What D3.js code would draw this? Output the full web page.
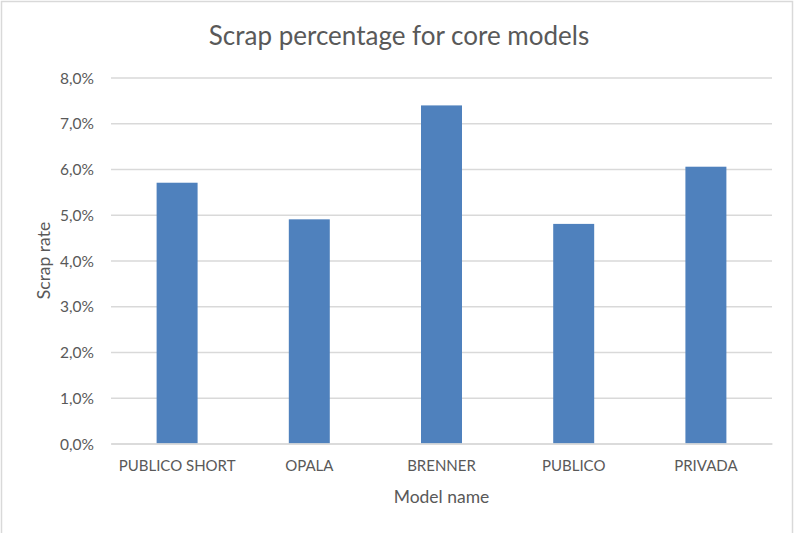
<!DOCTYPE html>
<html>
<head>
<meta charset="utf-8">
<script src="https://cdn.jsdelivr.net/npm/d3@7"></script>
<style>
  html, body { margin: 0; padding: 0; background: #fff; }
  svg { display: block; }
  text { font-family: Lato, "Open Sans", sans-serif; fill: #595959; }
</style>
</head>
<body>
<svg id="chart" width="794" height="533"></svg>
<script>
// Scrap rate per core model
const models = ["PUBLICO SHORT", "OPALA", "BRENNER", "PUBLICO", "PRIVADA"];
const scrapRates = [0.057, 0.049, 0.0739, 0.048, 0.0605];
const yTicks = [0, 0.01, 0.02, 0.03, 0.04, 0.05, 0.06, 0.07, 0.08];

const chartTitle = "Scrap percentage for core models";
const xTitle = "Model name";
const yTitle = "Scrap rate";

const W = 794, H = 533;
const margin = { top: 77.5, right: 22, bottom: 89.5, left: 111 };

const svg = d3.select("#chart");

// outer chart frame
svg.append("rect")
  .attr("x", 1.5).attr("y", 1.5)
  .attr("width", W - 3).attr("height", H + 10)
  .attr("fill", "#fff")
  .attr("stroke", "#d9d9d9")
  .attr("stroke-width", 1.5);

const x = d3.scaleBand()
  .domain(models)
  .range([margin.left, W - margin.right])
  .paddingInner(0.69)
  .paddingOuter(0.345);

const y = d3.scaleLinear()
  .domain([0, 0.08])
  .range([H - margin.bottom, margin.top]);

// comma decimal separator, e.g. 8,0%
const locale = d3.formatLocale({ decimal: ",", thousands: ".", grouping: [3], currency: ["", " €"] });
const pct = locale.format(".1%");

// horizontal gridlines + value labels
const yAxis = d3.axisLeft(y)
  .tickValues(yTicks)
  .tickFormat(pct)
  .tickSize(-(W - margin.left - margin.right))
  .tickPadding(17);

const gy = svg.append("g")
  .attr("transform", `translate(${margin.left},0)`)
  .call(yAxis);
gy.select(".domain").remove();
gy.selectAll(".tick line")
  .attr("stroke", "#d9d9d9")
  .attr("stroke-width", 1.3);
gy.selectAll(".tick text")
  .attr("font-size", 15.5)
  .attr("fill", "#595959")
  .attr("dy", "0.36em")
  .style("font-family", "Lato, sans-serif");

// bars
svg.append("g")
  .selectAll("rect")
  .data(models.map((m, i) => ({ m, v: scrapRates[i] })))
  .join("rect")
  .attr("x", d => x(d.m))
  .attr("y", d => y(d.v))
  .attr("width", x.bandwidth())
  .attr("height", d => y(0) - y(d.v))
  .attr("fill", "#4f81bd");

// category axis
const xAxis = d3.axisBottom(x).tickSize(0).tickPadding(17);
const gx = svg.append("g")
  .attr("transform", `translate(0,${y(0)})`)
  .call(xAxis);
gx.select(".domain")
  .attr("stroke", "#d9d9d9")
  .attr("stroke-width", 1.5);
gx.selectAll(".tick text")
  .attr("font-size", 15)
  .attr("fill", "#595959")
  .style("font-family", "Lato, sans-serif");

// titles
svg.append("text")
  .attr("x", 399).attr("y", 45)
  .attr("text-anchor", "middle")
  .attr("font-size", 26)
  .text(chartTitle);

svg.append("text")
  .attr("x", (margin.left + W - margin.right) / 2)
  .attr("y", 503)
  .attr("text-anchor", "middle")
  .attr("font-size", 17.5)
  .text(xTitle);

svg.append("text")
  .attr("transform", `translate(50,${(y(0) + y(0.08)) / 2}) rotate(-90)`)
  .attr("text-anchor", "middle")
  .attr("font-size", 17.5)
  .text(yTitle);
</script>
</body>
</html>
